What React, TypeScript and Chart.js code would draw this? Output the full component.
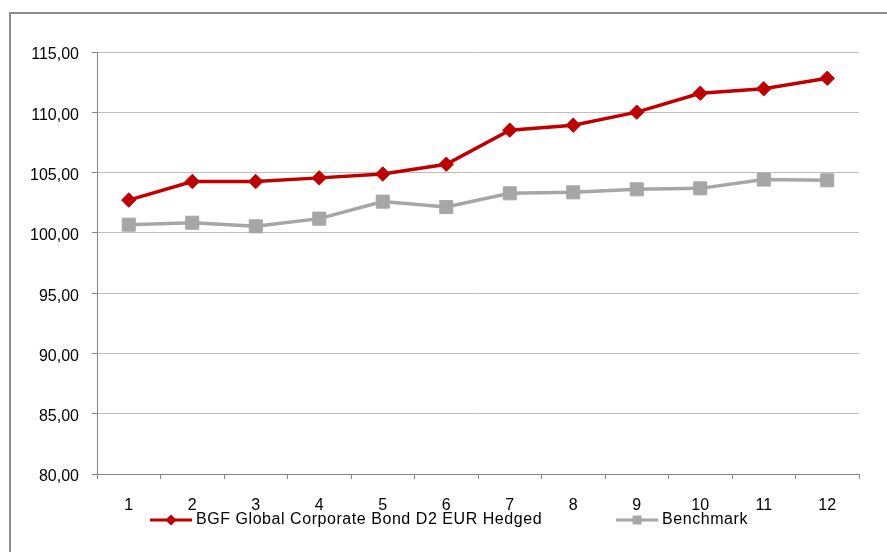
import React, { useEffect, useRef } from 'react';
import { Chart, registerables } from 'chart.js';

Chart.register(...registerables);

const categories = ['1', '2', '3', '4', '5', '6', '7', '8', '9', '10', '11', '12'];
const fundName = 'BGF Global Corporate Bond D2 EUR Hedged';
const fundValues = [102.72, 104.26, 104.26, 104.56, 104.88, 105.69, 108.52, 108.93, 110.01, 111.58, 111.95, 112.82];
const benchmarkName = 'Benchmark';
const benchmarkValues = [100.68, 100.84, 100.54, 101.18, 102.59, 102.14, 103.28, 103.36, 103.61, 103.69, 104.42, 104.36];
const yMin = 80;
const yMax = 115;
const yStep = 5;

const FONT = '"Liberation Sans", Arial, sans-serif';
const RED = '#C00000';
const GREY = '#A6A6A6';
const AXIS = '#868686';
const GRID = '#BFBFBF';

const legendPlugin = {
  id: 'excelLegend',
  afterDraw(chart: any) {
    const ctx = chart.ctx as CanvasRenderingContext2D;
    const ds = chart.data.datasets as any[];
    ctx.save();
    ctx.font = `16px ${FONT}`;
    (ctx as any).letterSpacing = '0.55px';
    const lineW = 42;
    const gap = 4;
    const itemGap = 74;
    const widths = ds.map((d) => lineW + gap + ctx.measureText(d.label).width);
    const total = widths.reduce((a, b) => a + b, 0) + itemGap * (ds.length - 1);
    let x = 449 - total / 2;
    const y = 520;
    ds.forEach((d, i) => {
      ctx.strokeStyle = d.borderColor;
      ctx.fillStyle = d.borderColor;
      ctx.lineWidth = 3;
      ctx.beginPath();
      ctx.moveTo(x, y);
      ctx.lineTo(x + lineW, y);
      ctx.stroke();
      const cx = x + lineW / 2;
      ctx.beginPath();
      if (d.pointStyle === 'rectRot') {
        const r = 5.5;
        ctx.moveTo(cx, y - r);
        ctx.lineTo(cx + r, y);
        ctx.lineTo(cx, y + r);
        ctx.lineTo(cx - r, y);
      } else {
        const h = 4.5;
        ctx.rect(cx - h, y - h, 2 * h, 2 * h);
      }
      ctx.closePath();
      ctx.fill();
      ctx.fillStyle = '#000';
      ctx.textBaseline = 'middle';
      ctx.textAlign = 'left';
      ctx.fillText(d.label, x + lineW + gap, y);
      x += widths[i] + itemGap;
    });
    ctx.restore();
  },
};

export default function App() {
  const ref = useRef<HTMLCanvasElement | null>(null);

  useEffect(() => {
    if (!ref.current) return;
    const chart = new Chart(ref.current, {
      type: 'line',
      data: {
        labels: categories,
        datasets: [
          {
            label: fundName,
            data: fundValues,
            borderColor: RED,
            backgroundColor: RED,
            borderWidth: 3.5,
            pointStyle: 'rectRot',
            pointRadius: 7.2,
            pointBorderWidth: 1,
            pointBackgroundColor: RED,
            pointBorderColor: RED,
            tension: 0,
          },
          {
            label: benchmarkName,
            data: benchmarkValues,
            borderColor: GREY,
            backgroundColor: GREY,
            borderWidth: 3.5,
            pointStyle: 'rect',
            pointRadius: 9.2,
            pointBorderWidth: 1,
            pointBackgroundColor: GREY,
            pointBorderColor: GREY,
            tension: 0,
          },
        ],
      },
      options: {
        responsive: false,
        animation: false,
        layout: { padding: { left: 0, right: 28, top: 52, bottom: 0 } },
        plugins: {
          legend: { display: false },
          tooltip: { enabled: false },
        },
        scales: {
          x: {
            offset: true,
            afterFit: (s: any) => {
              s.height = 78;
            },
            grid: {
              display: true,
              drawOnChartArea: false,
              offset: true,
              tickLength: 5,
              tickColor: AXIS,
            },
            border: { display: true, color: AXIS, width: 1 },
            ticks: {
              color: '#000',
              font: { family: FONT, size: 16 },
              padding: 17,
              maxRotation: 0,
              autoSkip: false,
            },
          },
          y: {
            min: yMin,
            max: yMax,
            afterFit: (s: any) => {
              s.width = 97;
            },
            grid: {
              color: GRID,
              tickColor: AXIS,
              tickLength: 5,
            },
            border: { display: true, color: AXIS, width: 1 },
            ticks: {
              stepSize: yStep,
              color: '#000',
              font: { family: FONT, size: 16 },
              padding: 13,
              labelOffset: 3,
              callback: (v: any) => Number(v).toFixed(2).replace('.', ','),
            },
          },
        },
      },
      plugins: [legendPlugin],
    });
    return () => chart.destroy();
  }, []);

  return (
    <div style={{ position: 'fixed', left: 0, top: 0, width: 887, height: 552, overflow: 'hidden', background: '#fff' }}>
      <canvas ref={ref} width={887} height={552} style={{ display: 'block', width: 887, height: 552 }} />
      <div
        style={{
          position: 'absolute',
          left: 9,
          top: 12,
          width: 1000,
          height: 1000,
          border: '2px solid #8C8C8C',
          pointerEvents: 'none',
        }}
      />
    </div>
  );
}
